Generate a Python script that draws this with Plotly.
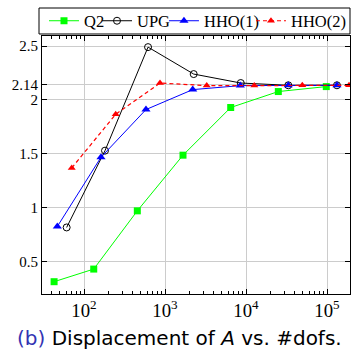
import plotly.graph_objects as go

# Data
q2_x = [42.7, 131.8, 455, 1667, 6470, 25060, 98000]
q2_y = [0.315, 0.432, 0.972, 1.488, 1.93, 2.078, 2.124]

upg_x = [61, 181.5, 617, 2260, 8610, 33270, 132700]
upg_y = [0.818, 1.53, 2.49, 2.24, 2.157, 2.136, 2.136]

hho1_x = [46.8, 162, 582, 2198, 8510, 33270, 132700]
hho1_y = [0.827, 1.469, 1.911, 2.096, 2.133, 2.136, 2.136]

hho2_x = [70.5, 246, 867, 3273, 12650, 49550, 187000]
hho2_y = [1.37, 1.867, 2.157, 2.133, 2.133, 2.136, 2.136]

y_ticks = [0.5, 1, 1.5, 2, 2.14, 2.5]
y_ticktext = ["0.5", "1", "1.5", "2", "2.14", "2.5"]

serif = "Liberation Serif"

fig = go.Figure()
fig.add_trace(go.Scatter(x=q2_x, y=q2_y, name="Q2", mode="lines+markers", legend="legend",
                         line=dict(color="#00ff00", width=1),
                         marker=dict(symbol="square", size=7, color="#00ff00")))
fig.add_trace(go.Scatter(x=upg_x, y=upg_y, name="UPG", mode="lines+markers", legend="legend2",
                         line=dict(color="black", width=1),
                         marker=dict(symbol="circle-open", size=7, color="black", line=dict(width=1))))
fig.add_trace(go.Scatter(x=hho1_x, y=hho1_y, name="HHO(1)", mode="lines+markers", legend="legend3",
                         line=dict(color="#0000ff", width=1),
                         marker=dict(symbol="triangle-up", size=8, color="#0000ff")))
fig.add_trace(go.Scatter(x=hho2_x, y=hho2_y, name="HHO(2)", mode="lines+markers", legend="legend4",
                         line=dict(color="#ff0000", width=1.2, dash="4px,3px"),
                         marker=dict(symbol="triangle-up", size=7, color="#ff0000")))

def leg(x, anchor="left"):
    return dict(orientation="h", x=x, xanchor=anchor, y=1.0581, yanchor="middle",
                borderwidth=0, bgcolor="rgba(0,0,0,0)", font=dict(family=serif, size=16.5),
                itemwidth=30)

fig.update_layout(
    width=351, height=350,
    margin=dict(l=42, r=1, t=36, b=56, autoexpand=False),
    paper_bgcolor="white", plot_bgcolor="white",
    font=dict(family=serif, size=15, color="black"),
    showlegend=True,
    legend=leg(0.0065), legend2=leg(0.1786), legend3=leg(0.396), legend4=leg(1.0032, "right"),
    xaxis=dict(type="log", range=[1.481, 5.284], dtick=1, exponentformat="power",
               showgrid=True, gridcolor="#cccccc", gridwidth=1,
               showline=True, linecolor="black", linewidth=1, mirror="allticks",
               ticks="inside", ticklen=5, tickcolor="black",
               minor=dict(dtick="D1", ticks="inside", ticklen=3, tickcolor="black", showgrid=False),
               tickfont=dict(family=serif, size=15), zeroline=False),
    yaxis=dict(range=[0.201, 2.593], tickmode="array", tickvals=y_ticks, ticktext=y_ticktext,
               showgrid=True, gridcolor="#cccccc", gridwidth=1,
               showline=True, linecolor="black", linewidth=1, mirror="allticks",
               ticks="inside", ticklen=5, tickcolor="black",
               tickfont=dict(family=serif, size=15), zeroline=False),
)

fig.add_shape(type="rect", xref="paper", yref="paper",
              x0=-0.00974, x1=1.0, y0=1.0078, y1=1.1085,
              line=dict(color="black", width=1), fillcolor="rgba(0,0,0,0)")

fig.add_annotation(
    text="<span style='color:#3333b3'>(b)</span> Displacement of <i>A</i> vs. #dofs.",
    xref="paper", yref="paper", x=0.445, y=-0.172, xanchor="center", yanchor="middle",
    showarrow=False, font=dict(family="DejaVu Sans", size=20, color="black"))

fig.write_html("out.html", config={"displayModeBar": False},
               post_script="document.body.style.margin='0';document.body.style.overflow='hidden';")
